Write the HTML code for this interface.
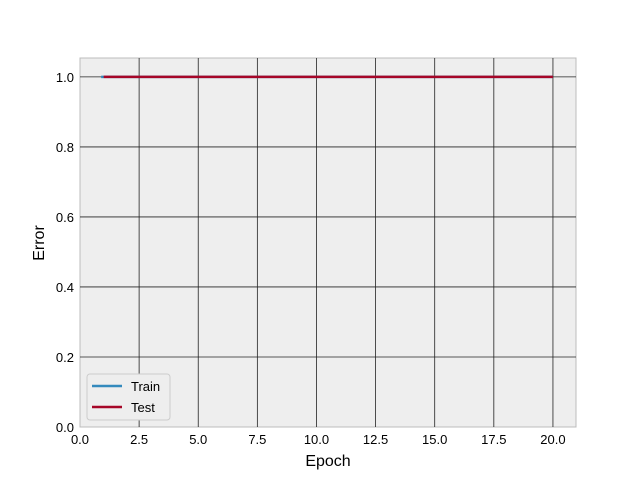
<!DOCTYPE html>
<html><head><meta charset="utf-8"><style>
body{margin:0;background:#fff}
svg text{font-family:"Liberation Sans","DejaVu Sans",sans-serif;fill:#000}
</style></head><body>
<svg id="c" width="640" height="480">
<rect x="0" y="0" width="640" height="480" fill="#fff"/>
<rect x="80" y="58" width="496" height="369" fill="#eeeeee" stroke="#bcbcbc"/>
<g id="grid"></g><g id="ticks"></g><g id="series"></g>
<text x="328" y="466" font-size="16" text-anchor="middle">Epoch</text>
<text transform="translate(44,243) rotate(-90)" font-size="16" text-anchor="middle">Error</text>
<g>
<rect x="87" y="374" width="83" height="46" rx="3" fill="#eeeeee" stroke="#cccccc"/>
<line x1="92" y1="386" x2="122" y2="386" stroke="#348abd" stroke-width="2.5"/>
<text x="131" y="391" font-size="13">Train</text>
<line x1="92" y1="407" x2="122" y2="407" stroke="#a60628" stroke-width="2.5"/>
<text x="131" y="412" font-size="13">Test</text>
</g>
</svg>
<script>
const epochs=[1,2,3,4,5,6,7,8,9,10,11,12,13,14,15,16,17,18,19,20];
const trainErr=[1,1,1,1,1,1,1,1,1,1,1,1,1,1,1,1,1,1,1,1];
const testErr=[1,1,1,1,1,1,1,1,1,1,1,1,1,1,1,1,1,1,1,1];
const xTicks=[0,2.5,5,7.5,10,12.5,15,17.5,20];
const xTickLabels=["0.0","2.5","5.0","7.5","10.0","12.5","15.0","17.5","20.0"];
const yTicks=[0,0.2,0.4,0.6,0.8,1.0];
const yTickLabels=["0.0","0.2","0.4","0.6","0.8","1.0"];
const NS="http://www.w3.org/2000/svg";
const X0=80,X1=576,Y0=427,Y1=58,xmin=0,xmax=20.975,ymin=0,ymax=1.054;
const sx=v=>X0+(v-xmin)/(xmax-xmin)*(X1-X0);
const sy=v=>Y0-(v-ymin)/(ymax-ymin)*(Y0-Y1);
function mk(t,a,p){const e=document.createElementNS(NS,t);for(const k in a)e.setAttribute(k,a[k]);p.appendChild(e);return e;}
const grid=document.getElementById('grid'),ticks=document.getElementById('ticks'),ser=document.getElementById('series');
xTicks.forEach((v,i)=>{
 const x=sx(v);
 if(v>xmin){const g=mk('line',{x1:x,x2:x,y1:Y1,y2:Y0,stroke:'#222',"stroke-width":0.8},grid);
 
 }
 const t=mk('text',{x:x,y:Y0+17,"font-size":13,"text-anchor":"middle"},ticks);t.textContent=xTickLabels[i];
 
 
});
yTicks.forEach((v,i)=>{
 const y=sy(v);
 if(v>ymin){const g=mk('line',{x1:X0,x2:X1,y1:y,y2:y,stroke:'#222',"stroke-width":0.8},grid);
 
 }
 const t=mk('text',{x:X0-6,y:y+5,"font-size":13,"text-anchor":"end"},ticks);t.textContent=yTickLabels[i];
 
 
});
function line(vals,col,name){
 const p=mk('polyline',{points:epochs.map((e,i)=>sx(e)+','+sy(vals[i])).join(' '),fill:'none',stroke:col,"stroke-width":2.5,"stroke-linecap":"butt"},ser);
 
 
}
const tb=mk('polyline',{points:(sx(epochs[0])-2.5)+','+sy(trainErr[0])+' '+sx(epochs[0])+','+sy(trainErr[0]),fill:'none',stroke:'#348abd',"stroke-width":2.5},ser);


line(trainErr,'#348abd','train-line');
line(testErr,'#a60628','test-line');
</script>
</body></html>
